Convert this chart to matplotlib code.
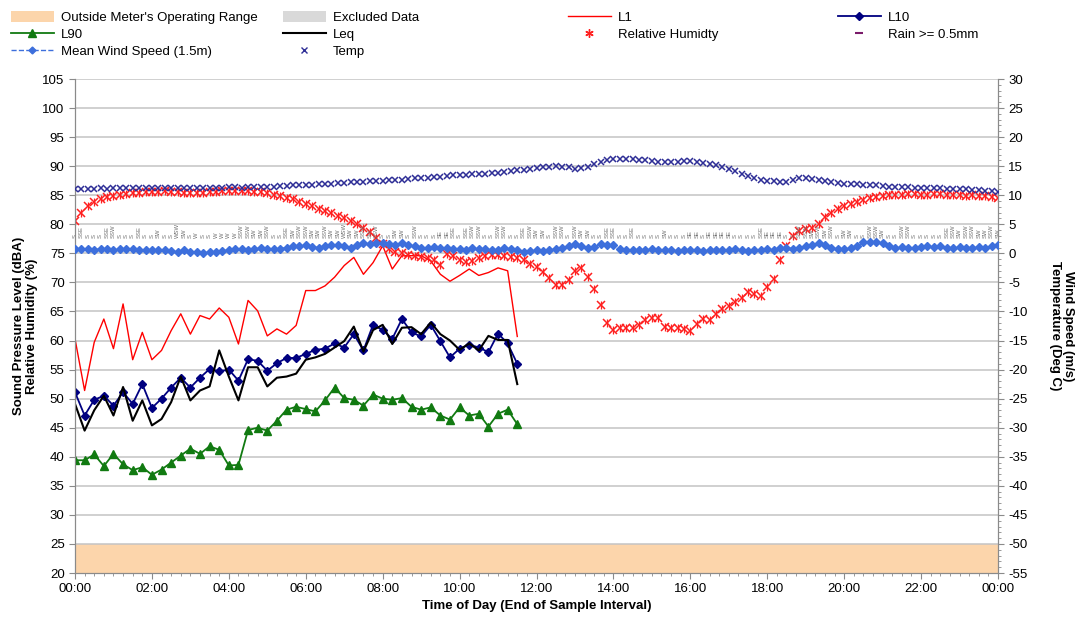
"""
騒音・気象 日変化プロット (1 日分)

左軸: 騒音レベル (L1, L10, L90, Leq) と相対湿度
右軸: 風速と気温
"""

import numpy as np
import matplotlib
matplotlib.use('Agg')
import matplotlib.pyplot as plt
from matplotlib.lines import Line2D
from matplotlib.patches import Patch
from matplotlib.ticker import MultipleLocator

plt.rcParams['font.family'] = ['Liberation Sans', 'DejaVu Sans']
plt.rcParams['axes.unicode_minus'] = False

# --- 騒音データ: 15 分間隔, 00:00 - 11:30 ---
NOISE_STEP_MIN = 15
L1 = [60.3, 51.4, 59.7, 63.7, 58.6, 66.3, 56.7, 61.4, 56.7, 58.3, 61.7, 64.6,
      61.1, 64.3, 63.7, 65.6, 64.0, 59.4, 66.9, 65.1, 60.8, 62.0, 61.1, 62.6,
      68.6, 68.6, 69.4, 70.9, 72.9, 74.3, 71.4, 73.4, 76.3, 72.3, 74.6, 74.6,
      74.6, 73.7, 71.4, 70.2, 71.2, 72.3, 71.2, 71.7, 72.5, 72.0, 60.7]
L10 = [51.1, 47.1, 49.8, 50.5, 48.8, 51.1, 49.1, 52.5, 48.4, 50.0, 51.9, 53.6,
       51.9, 53.6, 55.1, 54.7, 55.0, 53.1, 56.8, 56.5, 54.8, 56.1, 57.0, 57.0,
       57.7, 58.4, 58.6, 59.5, 58.8, 61.1, 58.3, 62.7, 61.8, 60.3, 63.7, 61.4,
       60.7, 62.7, 59.9, 57.1, 58.6, 59.3, 58.8, 58.0, 61.2, 59.5, 56.0]
L90 = [39.4, 39.4, 40.4, 38.4, 40.5, 38.7, 37.7, 38.2, 36.9, 37.8, 39.0, 40.2,
       41.4, 40.5, 41.8, 41.2, 38.5, 38.6, 44.6, 45.0, 44.5, 46.2, 48.1, 48.6,
       48.2, 47.8, 49.7, 51.9, 50.1, 49.8, 48.8, 50.7, 50.0, 49.8, 50.1, 48.6,
       48.1, 48.5, 47.1, 46.4, 48.5, 47.1, 47.4, 45.2, 47.4, 48.1, 45.6]
LEQ = [49.1, 44.5, 48.0, 50.5, 47.1, 52.0, 46.2, 49.7, 45.4, 46.5, 49.4, 53.8,
       49.7, 51.4, 52.1, 58.3, 53.8, 49.7, 55.4, 55.4, 52.1, 53.6, 53.8, 54.3,
       56.7, 57.1, 57.7, 58.8, 59.9, 62.4, 58.1, 61.8, 62.7, 59.4, 62.2, 62.3,
       61.1, 63.1, 61.1, 60.0, 58.4, 59.5, 58.3, 60.8, 60.1, 60.1, 52.5]

# --- 気象データ: 10 分間隔, 00:00 - 24:00 ---
WX_STEP_MIN = 10
RH = [80.6, 82.0, 83.2, 83.9, 84.4, 84.7, 84.9, 85.1, 85.2, 85.3, 85.4, 85.5, 85.5,
      85.6, 85.7, 85.6, 85.5, 85.4, 85.3, 85.3, 85.4, 85.5, 85.6, 85.7, 85.7, 85.8,
      85.8, 85.7, 85.6, 85.5,
      85.3, 85.1, 84.9, 84.6, 84.3, 83.9, 83.5, 83.1, 82.7, 82.3, 81.9, 81.5,
      81.1, 80.6, 80.0, 79.4, 78.7, 77.6,
      76.6, 75.7, 75.3, 75.0, 74.8, 74.6, 74.4, 74.2, 73.9, 73.0, 74.9, 74.5,
      73.8, 73.5, 73.6, 74.2, 74.5, 74.7, 74.7, 74.6, 74.4, 74.2, 73.8, 73.2,
      72.6, 71.8, 70.8, 69.6, 69.5, 70.4, 72.0, 72.5, 71.0, 68.9, 66.1, 63.0,
      61.8, 62.2, 62.2, 62.2, 62.6, 63.6, 63.9, 63.9, 62.4, 62.2, 62.1, 61.9,
      61.7, 62.9, 63.7, 63.5, 64.6, 65.4, 66.0, 66.6, 67.4, 68.3, 68.0, 67.6,
      69.2, 70.6, 73.8, 76.2, 77.9, 78.8, 79.2, 79.4, 80.1, 81.2, 81.9, 82.6,
      83.1, 83.5, 83.9, 84.2, 84.5, 84.7, 84.9, 85.0, 85.1, 85.1, 85.2, 85.2,
      85.1, 85.1, 85.2, 85.2, 85.1, 85.0, 85.0, 84.9, 85.0, 84.9, 84.8, 84.7, 84.6]
TEMP = [11.0, 11.1, 11.0, 11.1, 11.2, 11.1, 11.2, 11.2, 11.3, 11.2, 11.3, 11.3, 11.3,
        11.2, 11.3, 11.2, 11.3, 11.3, 11.2, 11.3, 11.3, 11.2, 11.3, 11.3, 11.4,
        11.4, 11.3, 11.4, 11.5, 11.4, 11.5, 11.5, 11.6, 11.6, 11.7, 11.7, 11.8,
        11.8, 11.9, 12.0, 12.0, 12.1, 12.1, 12.2, 12.3, 12.3, 12.4, 12.4, 12.5,
        12.6, 12.6, 12.7, 12.8, 12.9, 13.0, 13.0, 13.1, 13.2, 13.3, 13.4, 13.5,
        13.5, 13.6, 13.7, 13.7, 13.8, 13.8, 14.0, 14.1, 14.3, 14.4, 14.6, 14.7,
        14.8, 14.9, 15.0, 14.9, 14.8, 14.6, 14.7, 14.9, 15.4, 15.7, 16.0, 16.2,
        16.3, 16.2, 16.2, 16.1, 16.0, 15.9, 15.8, 15.8, 15.7, 15.8, 15.9, 15.9,
        15.8, 15.6, 15.4, 15.2, 14.9, 14.5, 14.1, 13.7, 13.3, 13.0, 12.7, 12.5,
        12.4, 12.3, 12.3, 12.6, 12.9, 13.0, 12.8, 12.6, 12.5, 12.3, 12.1, 12.0,
        11.9, 11.9, 11.8, 11.7, 11.7, 11.6, 11.5, 11.5, 11.4, 11.4, 11.3, 11.3,
        11.2, 11.2, 11.2, 11.1, 11.1, 11.1, 11.0, 10.9, 10.9, 10.8, 10.7, 10.6]
WIND = [0.7, 0.8, 0.7, 0.6, 0.8, 0.7, 0.6, 0.7, 0.8, 0.7, 0.6, 0.5, 0.6,
        0.5, 0.6, 0.4, 0.3, 0.5, 0.2, 0.3, 0.1, 0.2, 0.2, 0.4, 0.6,
        0.7, 0.8, 0.6, 0.8, 0.9, 0.8, 0.7, 0.8, 1.0, 1.3, 1.2, 1.4,
        1.1, 1.0, 1.3, 1.5, 1.4, 1.2, 1.0, 1.5, 1.7, 1.6, 1.8, 1.7,
        1.6, 1.5, 1.7, 1.4, 1.2, 1.0, 0.9, 1.1, 0.9, 1.0, 0.8, 0.7,
        0.6, 0.9, 0.7, 0.8, 0.5, 0.6, 0.9, 0.7, 0.5, 0.3, 0.4, 0.5,
        0.4, 0.6, 0.8, 1.0, 1.2, 1.6, 1.2, 0.9, 1.1, 1.6, 1.5, 1.4,
        0.8, 0.6, 0.5, 0.6, 0.5, 0.7, 0.6, 0.6, 0.5, 0.4, 0.5, 0.6,
        0.5, 0.4, 0.5, 0.6, 0.5, 0.6, 0.7, 0.5, 0.4, 0.6, 0.5, 0.7,
        0.6, 0.9, 1.0, 0.8, 0.9, 1.2, 1.5, 1.8, 1.4, 1.0, 0.8, 0.7,
        0.9, 1.2, 1.9, 2.0, 1.9, 1.8, 1.2, 1.0, 1.1, 0.9, 1.0, 1.1,
        1.2, 1.1, 1.3, 0.9, 1.0, 1.1, 1.0, 0.9, 1.1, 1.0, 1.2, 1.5]
WIND_DIR = (
    "S SSE S S S SSE SSW S S S SSE S "
    "S SW S S WSW SW S W S S W W "
    "W W SSW SSW SW SW SSW S S SSE SW SSW "
    "SSW SW SW SSW SW SW WSW SW SW SSW SW SSW "
    "S S SW SW S SSW S S S SE SE SSE "
    "S SSE SSW SSW S S SSW SSW S S SSE SSW "
    "SW SW S SSW SSW S SSW SW SW S S SSE "
    "SSE S S SSE S S S S SW S S S "
    "SE SE S SE SE SE SE S S S S SSE "
    "SE SE SE S S SSW SSW SW SSW SW SSW S "
    "SW SW S S SSW SSW SW S S SSW SSW S "
    "S S S S SSE SSW SW SSW SSW SW SW SSW "
    "SW").split()

X_TICKS = list(range(0, 25, 2))
X_TICK_LABELS = [f"{h % 24:02d}:00" for h in X_TICKS]

t_noise = np.arange(len(L1)) * NOISE_STEP_MIN / 60.0
t_wx = np.arange(len(RH)) * WX_STEP_MIN / 60.0

# --- 色 ---
C_L1 = '#ff0000'
C_L10 = '#000080'
C_L90 = '#117a11'
C_RH = '#ff2020'
C_TEMP = '#2e2e96'
C_WIND = '#3d6fdc'
C_BAND = '#fcd5ab'
C_GRID = '#c4c4c4'
C_AXIS = '#8a8a8a'

W, H = 1078, 621
fig = plt.figure(figsize=(W / 100, H / 100), dpi=100)
ax = fig.add_axes([75 / W, 1 - 573 / H, (998 - 75) / W, (573 - 79) / H])
ax2 = ax.twinx()

# 測定範囲外バンド (20-25 dBA)
ax.axhspan(20, 25, facecolor=C_BAND, edgecolor='none', zorder=0)
for y in range(25, 106, 5):
    ax.axhline(y, color=C_GRID, lw=1.1, zorder=0.5)

ax.plot(t_noise, L1, color=C_L1, lw=1.0, zorder=3)
ax.plot(t_noise, L90, color=C_L90, lw=1.3, marker='^', ms=5.5, zorder=3)
ax.plot(t_noise, L10, color=C_L10, lw=1.3, marker='D', ms=4.5, zorder=4)
ax.plot(t_noise, LEQ, color='black', lw=1.5, zorder=4)
# Excel の星形マーカー (x + 縦線)
ax.plot(t_wx, RH, ls='none', marker='x', ms=5.5, mew=1.1, color=C_RH, zorder=3)
ax.plot(t_wx, RH, ls='none', marker='|', ms=5.5, mew=0.9, color=C_RH, zorder=3)

ax2.plot(t_wx, WIND, color=C_WIND, lw=1.0, ls='--', marker='D', ms=4, zorder=3)
ax2.plot(t_wx, TEMP, ls='none', marker='x', ms=5, mew=1.1, color=C_TEMP, zorder=3)
for t, d in zip(t_wx, WIND_DIR):
    ax2.text(t, 2.6, d, rotation=90, fontsize=4.2, color='#6e6e6e',
             ha='center', va='bottom', zorder=2)

# --- 軸 ---
ax.set_xlim(0, 24)
ax.set_ylim(20, 105)
ax2.set_ylim(-55, 30)
ax.set_xticks(X_TICKS)
ax.set_xticklabels(X_TICK_LABELS)
ax.xaxis.set_minor_locator(MultipleLocator(0.25))
ax.yaxis.set_major_locator(MultipleLocator(5))
ax2.yaxis.set_major_locator(MultipleLocator(5))
ax2.yaxis.set_minor_locator(MultipleLocator(1))

for a in (ax, ax2):
    a.spines['top'].set_visible(False)
    for side in ('left', 'right', 'bottom'):
        a.spines[side].set_color(C_AXIS)
    a.tick_params(which='both', color=C_AXIS, labelsize=9.5, direction='out')
    a.tick_params(which='major', length=4)
    a.tick_params(which='minor', length=2)
ax.tick_params(axis='x', pad=3)

ax.set_xlabel('Time of Day (End of Sample Interval)', fontsize=9.5,
              fontweight='bold', labelpad=4)
ax.set_ylabel('Sound Pressure Level (dBA)\nRelative Humidity (%)', fontsize=9.5,
              fontweight='bold', labelpad=3, linespacing=1.1)
ax2.set_ylabel('Wind Speed (m/s)\nTemperature (Deg C)', fontsize=9.5,
               fontweight='bold', rotation=270, labelpad=33, linespacing=1.1)

# --- 凡例 (4 列) ---
columns = [
    [(Patch(facecolor=C_BAND), "Outside Meter's Operating Range"),
     (Line2D([], [], color=C_L90, lw=1.3, marker='^', ms=5.5), 'L90'),
     (Line2D([], [], color=C_WIND, lw=1.0, ls='--', marker='D', ms=3.5),
      'Mean Wind Speed (1.5m)')],
    [(Patch(facecolor='#d9d9d9'), 'Excluded Data'),
     (Line2D([], [], color='black', lw=1.5), 'Leq'),
     (Line2D([], [], ls='none', marker='x', ms=5, mew=1.0, color=C_TEMP), 'Temp')],
    [(Line2D([], [], color=C_L1, lw=1.0), 'L1'),
     (Line2D([], [], ls='none', marker=(6, 2, 0), ms=6, mew=1.0, color=C_RH),
      'Relative Humidty')],
    [(Line2D([], [], color=C_L10, lw=1.3, marker='D', ms=4.5), 'L10'),
     (Line2D([], [], ls='none', marker='_', ms=6, mew=1.5, color='#7a1a6a'),
      'Rain >= 0.5mm')],
]
col_x = [8, 280, 565, 835]
for x0, entries in zip(col_x, columns):
    handles, labels = zip(*entries)
    fig.legend(handles, labels, loc='upper left',
               bbox_to_anchor=(x0 / W, 1 - 8 / H), frameon=False,
               fontsize=9.5, handlelength=3.3, handleheight=0.9,
               handletextpad=0.5, labelspacing=0.32, borderaxespad=0,
               borderpad=0.2, numpoints=1)

fig.savefig('out.png', dpi=100)
